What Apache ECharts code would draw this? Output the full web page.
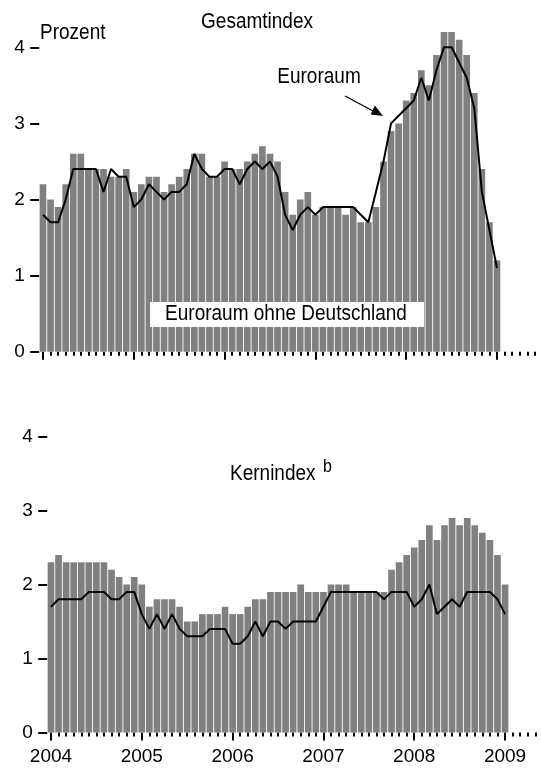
<!DOCTYPE html>
<html><head><meta charset="utf-8">
<script src="https://cdn.jsdelivr.net/npm/echarts@6/dist/echarts.min.js"></script>
<style>html,body{margin:0;padding:0;background:#fff}#c{width:541px;height:769px}</style>
</head><body><div id="c"></div>
<script>
// ---- data (monthly, Jan 2004 – Jan 2009), Prozent ----
const years = ['2004','2005','2006','2007','2008','2009'];
const yTicks = [0, 1, 2, 3, 4];
// Gesamtindex: Euroraum ohne Deutschland (bars)
const gesamtOhneDE = [
  2.2,2.0,1.9,2.2,2.6,2.6,2.4,2.4,2.4,2.3,2.3,2.4,
  2.1,2.2,2.3,2.3,2.1,2.2,2.3,2.4,2.6,2.6,2.3,2.3,
  2.5,2.4,2.4,2.5,2.6,2.7,2.6,2.5,2.1,1.8,2.0,2.1,
  1.8,1.9,1.9,1.9,1.8,1.9,1.7,1.7,1.9,2.5,2.9,3.0,
  3.3,3.4,3.7,3.5,3.9,4.2,4.2,4.1,3.9,3.4,2.4,1.7,
  1.2
];
// Gesamtindex: Euroraum (line)
const gesamtEuro = [
  1.8,1.7,1.7,2.0,2.4,2.4,2.4,2.4,2.1,2.4,2.3,2.3,
  1.9,2.0,2.2,2.1,2.0,2.1,2.1,2.2,2.6,2.4,2.3,2.3,
  2.4,2.4,2.2,2.4,2.5,2.4,2.5,2.3,1.8,1.6,1.8,1.9,
  1.8,1.9,1.9,1.9,1.9,1.9,1.8,1.7,2.1,2.5,3.0,3.1,
  3.2,3.3,3.6,3.3,3.7,4.0,4.0,3.8,3.6,3.2,2.1,1.6,
  1.1
];
// Kernindex: Euroraum ohne Deutschland (bars)
const kernOhneDE = [
  2.3,2.4,2.3,2.3,2.3,2.3,2.3,2.3,2.2,2.1,2.0,2.1,
  2.0,1.7,1.8,1.8,1.8,1.7,1.5,1.5,1.6,1.6,1.6,1.7,
  1.6,1.6,1.7,1.8,1.8,1.9,1.9,1.9,1.9,2.0,1.9,1.9,
  1.9,2.0,2.0,2.0,1.9,1.9,1.9,1.9,1.9,2.2,2.3,2.4,
  2.5,2.6,2.8,2.6,2.8,2.9,2.8,2.9,2.8,2.7,2.6,2.4,
  2.0
];
// Kernindex: Euroraum (line)
const kernEuro = [
  1.7,1.8,1.8,1.8,1.8,1.9,1.9,1.9,1.8,1.8,1.9,1.9,
  1.6,1.4,1.6,1.4,1.6,1.4,1.3,1.3,1.3,1.4,1.4,1.4,
  1.2,1.2,1.3,1.5,1.3,1.5,1.5,1.4,1.5,1.5,1.5,1.5,
  1.7,1.9,1.9,1.9,1.9,1.9,1.9,1.9,1.8,1.9,1.9,1.9,
  1.7,1.8,2.0,1.6,1.7,1.8,1.7,1.9,1.9,1.9,1.9,1.8,
  1.6
];

// ---- structure ----
const months = [];
years.forEach(y => { for (let m = 1; m <= 12; m++) months.push(y + '-' + (m < 10 ? '0' + m : m)); });
const catsTop = months.slice(0, 66);
const catsBot = months.slice(0, 65);

const FONT = "'Liberation Sans', Arial, sans-serif";
const TXT = '#000';
const isJan = (i) => i % 12 === 0;

function xAxes(gi, cats, showLabels) {
  return [
    { gridIndex: gi, type: 'category', data: cats, position: 'bottom',
      axisLine: { show: false },
      axisTick: { show: true, alignWithLabel: true, interval: 0, length: 4, lineStyle: { color: '#000', width: 2 } },
      axisLabel: { show: false }, splitLine: { show: false } },
    { gridIndex: gi, type: 'category', data: cats, position: 'bottom',
      axisLine: { show: false },
      axisTick: { show: true, alignWithLabel: true, interval: isJan, length: 8, lineStyle: { color: '#000', width: 2 } },
      axisLabel: { show: showLabels, interval: isJan, formatter: v => v.slice(0, 4), margin: 15,
        fontSize: 19, color: TXT, fontFamily: FONT },
      splitLine: { show: false } }
  ];
}
function yAxis(gi) {
  return { gridIndex: gi, type: 'value', min: yTicks[0], max: yTicks[yTicks.length - 1], interval: 1,
    axisLine: { show: false },
    axisTick: { show: true, length: 9, lineStyle: { color: '#000', width: 2 } },
    axisLabel: { margin: 14.5, fontSize: 19, color: TXT, fontFamily: FONT },
    splitLine: { show: false } };
}
function barSeries(xi, yi, data) {
  return { type: 'bar', xAxisIndex: xi, yAxisIndex: yi, data: data, barCategoryGap: '12%',
    itemStyle: { color: '#808080' }, clip: false, z: 2, silent: true };
}
function lineSeries(xi, yi, data) {
  return { type: 'line', xAxisIndex: xi, yAxisIndex: yi, data: data, symbol: 'none',
    lineStyle: { color: '#000', width: 2 }, z: 5, clip: false, silent: true };
}

const chart = echarts.init(document.getElementById('c'), null, { renderer: 'canvas' });
const txt = (x, y, s, opts, z) => ({ type: 'text', z: z || 100, x: x, y: y, scaleY: 1.12,
  style: Object.assign({ x: 0, y: 0, text: s, fill: TXT, font: '19px ' + FONT, textAlign: 'center', textVerticalAlign: 'middle' }, opts || {}) });

chart.setOption({
  animation: false,
  backgroundColor: '#fff',
  grid: [
    { left: 39.2, top: 47.3, width: 499.4, height: 304.4 },
    { left: 47.2, top: 436.5, width: 491.9, height: 296 }
  ],
  xAxis: [].concat(xAxes(0, catsTop, false), xAxes(1, catsBot, true)),
  yAxis: [yAxis(0), yAxis(1)],
  series: [
    barSeries(0, 0, gesamtOhneDE),
    lineSeries(0, 0, gesamtEuro),
    barSeries(2, 1, kernOhneDE),
    lineSeries(2, 1, kernEuro)
  ],
  graphic: [
    txt(40, 33, 'Prozent', { textAlign: 'left' }),
    txt(257, 22, 'Gesamtindex'),
    txt(319, 77, 'Euroraum'),
    { type: 'line', z: 100, shape: { x1: 345, y1: 96, x2: 374, y2: 111.5 }, style: { stroke: '#000', lineWidth: 1.3 } },
    { type: 'polygon', z: 100, shape: { points: [[383, 116], [370.7, 114.4], [374.9, 105.6]] }, style: { fill: '#000' } },
    { type: 'rect', z: 100, shape: { x: 150, y: 302, width: 274, height: 25 }, style: { fill: '#fff' } },
    txt(286, 314.5, 'Euroraum ohne Deutschland', {}, 101),
    txt(230, 474, 'Kernindex', { textAlign: 'left' }),
    txt(323, 467, 'b', { textAlign: 'left', font: '16px ' + FONT })
  ]
});
</script></body></html>
